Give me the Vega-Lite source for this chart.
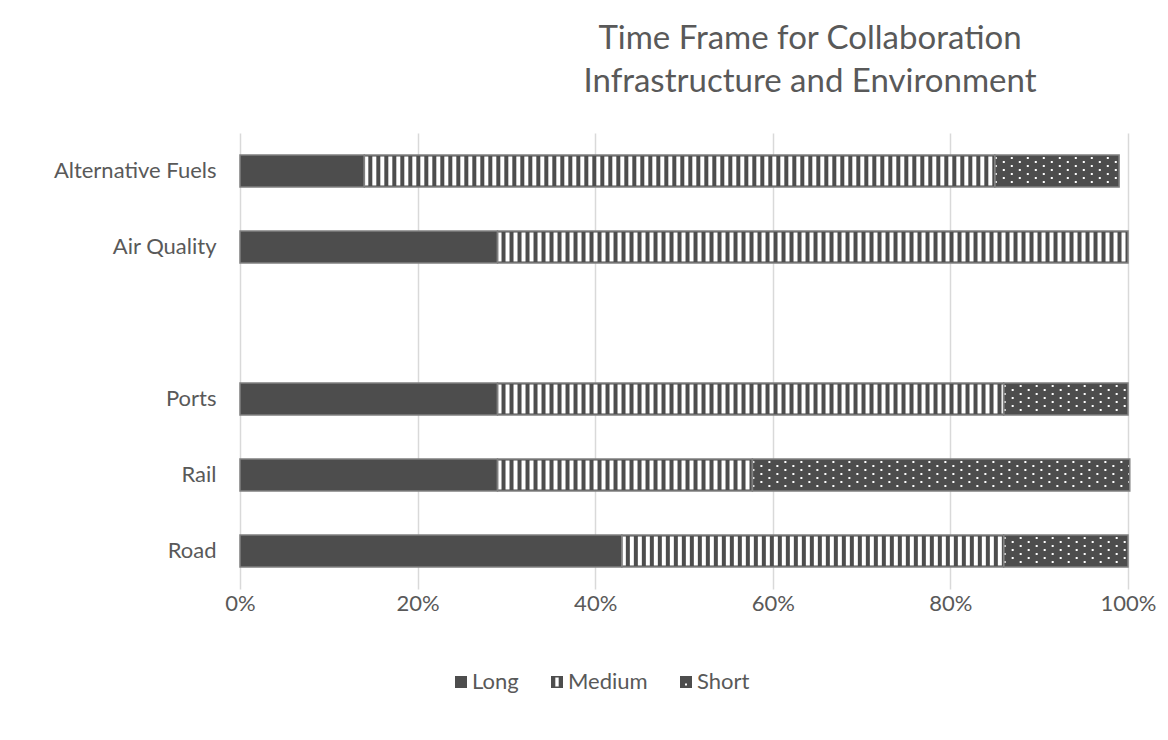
{
  "$schema": "https://vega.github.io/schema/vega-lite/v6.json",
  "width": 888,
  "height": 456,
  "autosize": {"type": "none"},
  "padding": {"left": 240, "top": 133, "right": 40, "bottom": 151},
  "background": "white",
  "title": {
    "text": ["Time Frame for Collaboration", "Infrastructure and Environment"],
    "font": "Lato",
    "fontSize": 33,
    "fontWeight": "normal",
    "color": "#595959",
    "lineHeight": 43,
    "anchor": "middle",
    "frame": "group",
    "dx": 126,
    "offset": 34
  },
  "data": {
    "values": [
      {"cat": "Alternative Fuels", "series": "Long", "ord": 1, "value": 0.14},
      {"cat": "Alternative Fuels", "series": "Medium", "ord": 2, "value": 0.71},
      {"cat": "Alternative Fuels", "series": "Short", "ord": 3, "value": 0.14},
      {"cat": "Air Quality", "series": "Long", "ord": 1, "value": 0.29},
      {"cat": "Air Quality", "series": "Medium", "ord": 2, "value": 0.71},
      {"cat": "Ports", "series": "Long", "ord": 1, "value": 0.29},
      {"cat": "Ports", "series": "Medium", "ord": 2, "value": 0.57},
      {"cat": "Ports", "series": "Short", "ord": 3, "value": 0.14},
      {"cat": "Rail", "series": "Long", "ord": 1, "value": 0.29},
      {"cat": "Rail", "series": "Medium", "ord": 2, "value": 0.287},
      {"cat": "Rail", "series": "Short", "ord": 3, "value": 0.425},
      {"cat": "Road", "series": "Long", "ord": 1, "value": 0.43},
      {"cat": "Road", "series": "Medium", "ord": 2, "value": 0.43},
      {"cat": "Road", "series": "Short", "ord": 3, "value": 0.14}
    ]
  },
  "transform": [
    {"stack": "value", "groupby": ["cat"], "sort": [{"field": "ord"}], "as": ["v0", "v1"]}
  ],
  "encoding": {
    "y": {
      "field": "cat",
      "type": "nominal",
      "title": null,
      "scale": {
        "domain": ["Alternative Fuels", "Air Quality", " ", "Ports", "Rail", "Road"],
        "paddingInner": 0.58,
        "paddingOuter": 0.29
      },
      "axis": {"labelPadding": 24, "grid": false}
    },
    "x": {
      "field": "v0",
      "type": "quantitative",
      "title": null,
      "scale": {"domain": [0, 1]},
      "axis": {"format": "%", "values": [0, 0.2, 0.4, 0.6, 0.8, 1], "grid": true, "gridColor": "#d9d9d9", "gridWidth": 1.5, "labelPadding": 4, "labelFlush": false}
    },
    "x2": {"field": "v1"}
  },
  "layer": [
    {
      "mark": {"type": "bar"},
      "encoding": {
        "color": {
          "field": "series",
          "type": "nominal",
          "scale": {"domain": ["Long", "Medium", "Short"], "range": ["#4d4d4d", "#4d4d4d", "#4d4d4d"]},
          "legend": {
            "orient": "none",
            "legendX": 210,
            "legendY": 538,
            "direction": "horizontal",
            "title": null,
            "symbolType": "square",
            "symbolSize": 144,
            "symbolStrokeWidth": 0,
            "labelFont": "Lato",
            "labelFontSize": 22,
            "labelColor": "#595959",
            "labelOffset": 0,
            "columnPadding": 27,
            "encode": {
              "symbols": {
                "update": {
                  "shape": {"signal": "datum.value === 'Medium' ? 'M-1,-1H1V1H-1Z M-0.28,-0.75V0.75H0.28V-0.75Z' : datum.value === 'Short' ? 'M-1,-1H1V1H-1Z M-0.17,0.25V0.6H0.17V0.25Z' : 'square'"}
                }
              }
            }
          }
        }
      }
    },
    {
      "transform": [{"filter": "datum.series === 'Medium'"}],
      "mark": {"type": "rule", "strokeWidth": 29, "strokeDash": [4, 4], "strokeDashOffset": 0, "color": "#ffffff"}
    },
    {
      "transform": [{"filter": "datum.series === 'Short'"}],
      "mark": {"type": "rule", "strokeWidth": 2, "strokeDash": [2, 14], "strokeDashOffset": 0, "color": "#ffffff", "yOffset": -13}
    },
    {
      "transform": [{"filter": "datum.series === 'Short'"}],
      "mark": {"type": "rule", "strokeWidth": 2, "strokeDash": [2, 14], "strokeDashOffset": 8, "color": "#ffffff", "yOffset": -9}
    },
    {
      "transform": [{"filter": "datum.series === 'Short'"}],
      "mark": {"type": "rule", "strokeWidth": 2, "strokeDash": [2, 14], "strokeDashOffset": 0, "color": "#ffffff", "yOffset": -5}
    },
    {
      "transform": [{"filter": "datum.series === 'Short'"}],
      "mark": {"type": "rule", "strokeWidth": 2, "strokeDash": [2, 14], "strokeDashOffset": 8, "color": "#ffffff", "yOffset": -1}
    },
    {
      "transform": [{"filter": "datum.series === 'Short'"}],
      "mark": {"type": "rule", "strokeWidth": 2, "strokeDash": [2, 14], "strokeDashOffset": 0, "color": "#ffffff", "yOffset": 3}
    },
    {
      "transform": [{"filter": "datum.series === 'Short'"}],
      "mark": {"type": "rule", "strokeWidth": 2, "strokeDash": [2, 14], "strokeDashOffset": 8, "color": "#ffffff", "yOffset": 7}
    },
    {
      "transform": [{"filter": "datum.series === 'Short'"}],
      "mark": {"type": "rule", "strokeWidth": 2, "strokeDash": [2, 14], "strokeDashOffset": 0, "color": "#ffffff", "yOffset": 11}
    },
    {
      "mark": {"type": "bar", "fill": "transparent", "stroke": "#808080", "strokeWidth": 1.5}
    }
  ],
  "config": {
    "view": {"stroke": null},
    "axis": {
      "labelFont": "Lato",
      "labelFontSize": 22,
      "labelColor": "#595959",
      "domain": false,
      "ticks": false
    }
  }
}
